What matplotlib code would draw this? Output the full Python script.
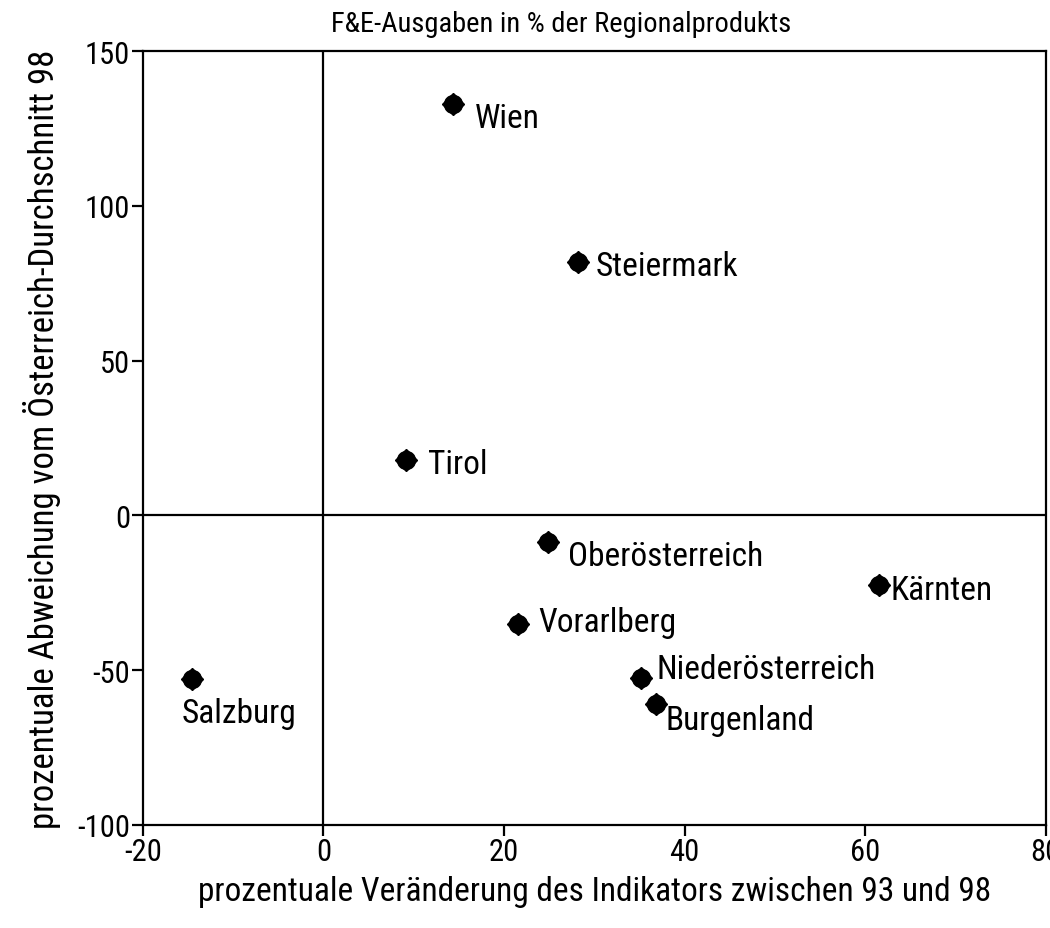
import matplotlib.pyplot as plt

plt.rcParams['font.family'] = ['Liberation Sans Narrow', 'DejaVu Sans Condensed',
                               'Roboto Condensed', 'DejaVu Sans']
plt.rcParams['axes.unicode_minus'] = False

# regions, change 93-98 (%) and deviation from Austrian average 98
regions = ["Wien", "Steiermark", "Tirol", "Oberösterreich", "Kärnten",
           "Vorarlberg", "Niederösterreich", "Burgenland", "Salzburg"]
veraenderung = [14.3, 28.2, 9.1, 24.9, 61.5, 21.5, 35.2, 36.8, -14.6]
abweichung = [133, 82, 18, -8.5, -22.5, -35, -52.5, -61, -53]

# label offsets in pixels (dx, dy)
offsets = [(22, -14), (18, -4), (22, -4), (20, -14), (12, -5),
           (21, 2), (15, 9), (10, -16), (-10, -34)]

fig = plt.figure(figsize=(10.5, 9.29), dpi=100)
ax = fig.add_axes([0.136, 0.111, 0.86, 0.833])

ax.axhline(0, color="black", lw=1.6, zorder=1)
ax.axvline(0, color="black", lw=1.6, zorder=1)
ax.plot(veraenderung, abweichung, "o", color="black", ms=13, zorder=3)
ax.plot(veraenderung, abweichung, "D", color="black", ms=11, zorder=3)

for name, x, y, (dx, dy) in zip(regions, veraenderung, abweichung, offsets):
    ax.annotate(name, (x, y), xytext=(dx, dy), textcoords="offset pixels",
                ha="left", va="center", fontsize=24)

ax.set_xlim(-20, 80)
ax.set_ylim(-100, 150)
ax.set_xticks([-20, 0, 20, 40, 60, 80])
ax.set_yticks([-100, -50, 0, 50, 100, 150])
for s in ax.spines.values():
    s.set_linewidth(1.6)
ax.tick_params(direction="out", length=8, width=1.6, labelsize=22, pad=1)

ax.set_xlabel("prozentuale Veränderung des Indikators zwischen 93 und 98",
              fontsize=24, labelpad=6)
ax.set_ylabel("prozentuale Abweichung vom Österreich-Durchschnitt 98",
              fontsize=25, labelpad=12)
fig.text(561 / 1050, 1 - 25 / 929, "F&E-Ausgaben in % der Regionalprodukts",
         fontsize=20.5, ha="center", va="center")

fig.savefig("out.png", dpi=100)
